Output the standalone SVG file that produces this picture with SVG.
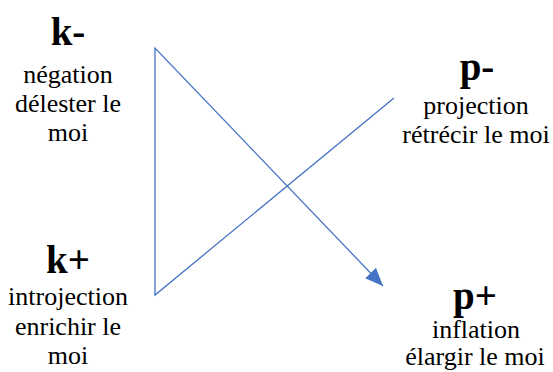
<svg xmlns="http://www.w3.org/2000/svg" width="553" height="372" viewBox="0 0 553 372">
<style>
.t{font-family:"Liberation Serif","Times New Roman",serif;font-size:26px;fill:#000;text-anchor:middle}
.h{font-family:"Liberation Serif","Times New Roman",serif;font-size:39px;font-weight:bold;fill:#000;text-anchor:middle}
.c{fill:none;stroke:#4472C4;stroke-width:1.3}
</style>
<defs>
<marker id="ah" viewBox="0 0 18 15" refX="18" refY="7.5" markerWidth="18" markerHeight="15" markerUnits="userSpaceOnUse" orient="auto">
<path d="M0,0 L18,7.5 L0,15 z" fill="#4472C4"/>
</marker>
</defs>
<rect width="553" height="372" fill="#fff"/>
<g id="connectors">
<path class="c" d="M394,98 L155,295 L155,48 L383,286" marker-end="url(#ah)"/>
</g>
<g id="k-minus">
<text class="h" x="68" y="45">k-</text>
<text class="t" x="68" y="83">négation</text>
<text class="t" x="68" y="112">délester le</text>
<text class="t" x="68" y="141">moi</text>
</g>
<g id="p-minus">
<text class="h" x="477" y="80">p-</text>
<text class="t" x="476" y="114">projection</text>
<text class="t" x="476" y="143">rétrécir le moi</text>
</g>
<g id="k-plus">
<text class="h" x="68" y="273">k+</text>
<text class="t" x="68" y="305">introjection</text>
<text class="t" x="68" y="335">enrichir le</text>
<text class="t" x="68" y="364">moi</text>
</g>
<g id="p-plus">
<text class="h" x="475" y="309">p+</text>
<text class="t" x="476" y="338">inflation</text>
<text class="t" x="475" y="365">élargir le moi</text>
</g>
</svg>
